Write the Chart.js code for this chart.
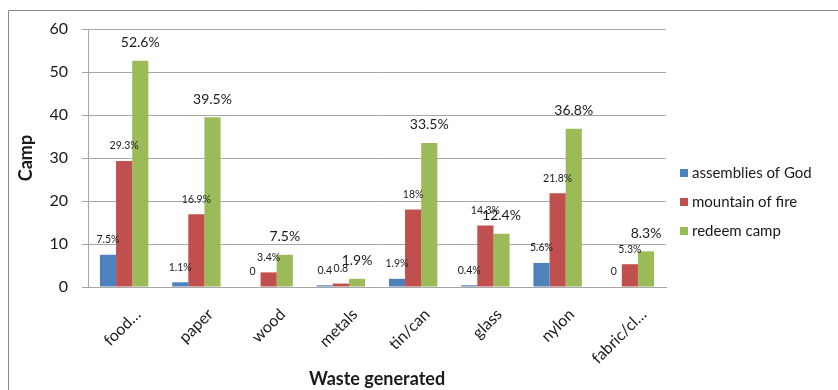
<!DOCTYPE html>
<html>
<head>
<meta charset="utf-8">
<script src="https://cdn.jsdelivr.net/npm/chart.js@4.4.1/dist/chart.umd.min.js"></script>
<style>
  html, body { margin: 0; padding: 0; background: #fff; }
  #wrap { width: 838px; height: 390px; position: relative; }
</style>
</head>
<body>
<div id="wrap"><canvas id="myChart"></canvas></div>
<script>
// categories and values
const categories = ['food…', 'paper', 'wood', 'metals', 'tin/can', 'glass', 'nylon', 'fabric/cl…'];
const assembliesOfGod = [7.5, 1.1, 0, 0.4, 1.9, 0.4, 5.6, 0];
const mountainOfFire = [29.3, 16.9, 3.4, 0.8, 18, 14.3, 21.8, 5.3];
const redeemCamp = [52.6, 39.5, 7.5, 1.9, 33.5, 12.4, 36.8, 8.3];

// the value labels as printed above each bar
const assembliesLabels = ['7.5%', '1.1%', '0', '0.4', '1.9%', '0.4%', '5.6%', '0'];
const mountainLabels = ['29.3%', '16.9%', '3.4%', '0.8', '18%', '14.3%', '21.8%', '5.3%'];
const redeemLabels = ['52.6%', '39.5%', '7.5%', '1.9%', '33.5%', '12.4%', '36.8%', '8.3%'];

const yTicks = [0, 10, 20, 30, 40, 50, 60];

const FONT = 'Lato, "Open Sans", sans-serif';
const GRID = '#a6a6a6';

// draws the label text above each bar
const barLabels = {
    id: 'barLabels',
    afterDatasetsDraw(chart) {
        const ctx = chart.ctx;
        ctx.save();
        ctx.fillStyle = '#1a1a1a';
        ctx.textAlign = 'center';
        ctx.textBaseline = 'middle';
        chart.data.datasets.forEach((ds, i) => {
            const meta = chart.getDatasetMeta(i);
            const big = i === 2;
            ctx.font = (big ? '14px ' : '10.5px ') + FONT;
            meta.data.forEach((bar, j) => {
                ctx.fillText(ds.valueLabels[j], bar.x, bar.y - (big ? 18 : 15));
            });
        });
        ctx.restore();
    }
};

// frame line on the left and top, and the legend on the right
const frameAndLegend = {
    id: 'frameAndLegend',
    afterDraw(chart) {
        const ctx = chart.ctx;
        const area = chart.chartArea;
        ctx.save();
        ctx.strokeStyle = '#8c8c8c';
        ctx.lineWidth = 1;
        ctx.beginPath();
        ctx.moveTo(8.5, 390);
        ctx.lineTo(8.5, 10.5);
        ctx.lineTo(838, 10.5);
        ctx.stroke();

        ctx.font = '15px ' + FONT;
        ctx.textBaseline = 'middle';
        ctx.textAlign = 'left';
        const x = area.right + 14;
        chart.data.datasets.forEach((ds, i) => {
            const y = area.top + 144 + i * 29;
            ctx.fillStyle = ds.backgroundColor;
            ctx.fillRect(x, y - 4, 8, 8);
            ctx.fillStyle = '#1a1a1a';
            ctx.fillText(ds.label, x + 12, y);
        });
        ctx.restore();
    }
};

const chart = new Chart(document.getElementById('myChart'), {
    type: 'bar',
    data: {
        labels: categories,
        datasets: [
            { label: 'assemblies of God', data: assembliesOfGod, valueLabels: assembliesLabels, backgroundColor: '#4f81bd' },
            { label: 'mountain of fire', data: mountainOfFire, valueLabels: mountainLabels, backgroundColor: '#c0504d' },
            { label: 'redeem camp', data: redeemCamp, valueLabels: redeemLabels, backgroundColor: '#9bbb59' }
        ]
    },
    options: {
        responsive: true,
        maintainAspectRatio: false,
        animation: false,
        events: [],
        categoryPercentage: 0.67,
        barPercentage: 1.0,
        layout: { padding: { left: 8, top: 29, right: 172, bottom: 0 } },
        plugins: {
            legend: { display: false },
            tooltip: { enabled: false }
        },
        scales: {
            x: {
                grid: { display: false },
                border: { display: true, color: GRID, width: 1 },
                ticks: {
                    color: '#1a1a1a',
                    font: { family: FONT, size: 16 },
                    maxRotation: 45,
                    minRotation: 45,
                    labelOffset: 14,
                    padding: 10
                },
                title: {
                    display: true,
                    text: 'Waste generated',
                    color: '#1a1a1a',
                    font: { family: FONT, size: 18, weight: 'bold' },
                    padding: { top: 0, bottom: 0 }
                },
                afterFit(scale) { scale.height = 103; }
            },
            y: {
                min: 0,
                max: 60,
                afterBuildTicks(scale) { scale.ticks = yTicks.map(v => ({ value: v })); },
                grid: { color: GRID, tickLength: 6, drawTicks: true },
                border: { display: true, color: GRID, width: 1 },
                ticks: {
                    color: '#1a1a1a',
                    font: { family: FONT, size: 16 },
                    padding: 14
                },
                title: {
                    display: true,
                    text: 'Camp',
                    color: '#1a1a1a',
                    font: { family: FONT, size: 18, weight: 'bold' },
                    padding: { top: 7, bottom: 0 }
                },
                afterFit(scale) { scale.width = 80; }
            }
        }
    },
    plugins: [barLabels, frameAndLegend]
});
</script>
</body>
</html>
